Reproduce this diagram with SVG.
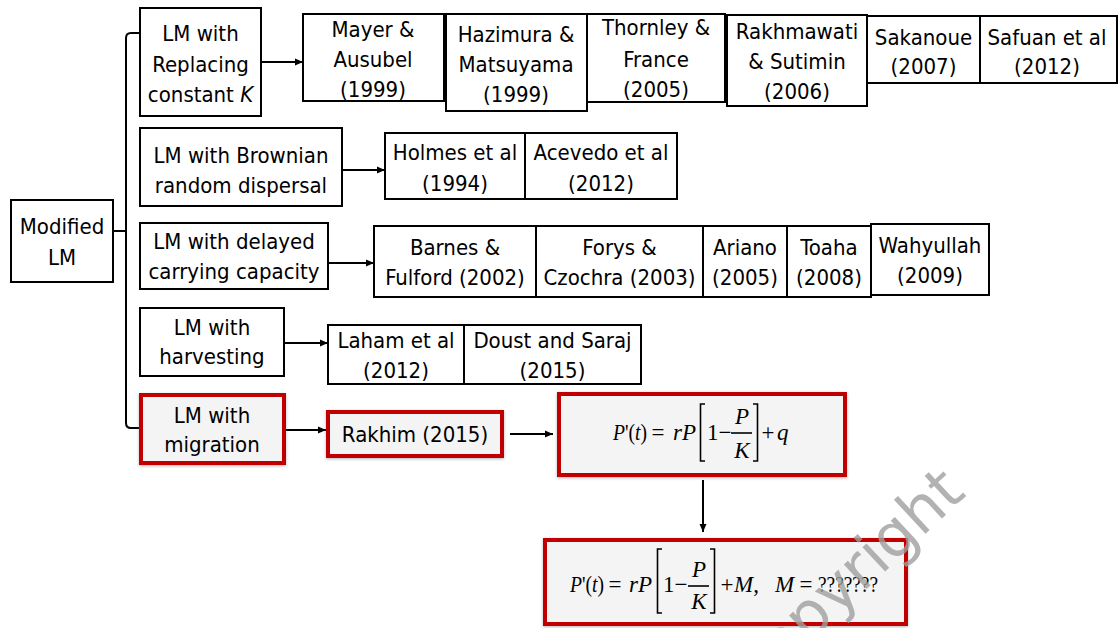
<svg xmlns="http://www.w3.org/2000/svg" width="1118" height="628" viewBox="0 0 1118 628">
<defs>
<style>
.box{fill:#fff;stroke:#000;stroke-width:2}
.red{fill:#f4f4f4;stroke:#c00000;stroke-width:4;filter:url(#sh)}
.t{font-family:"DejaVu Sans Condensed","DejaVu Sans",sans-serif;font-stretch:condensed;font-size:22px;fill:#000;text-anchor:middle}
.eq{font-family:"Liberation Serif","Times New Roman",serif;font-size:23px;fill:#000}
.i{font-style:italic}
.c{fill:none;stroke:#000;stroke-width:2}
.br{fill:none;stroke:#000;stroke-width:1.6}
.wm{font-family:"DejaVu Sans",sans-serif;font-size:61px;fill:#a0a0a0;opacity:0.8}
</style>
<marker id="ah" markerUnits="userSpaceOnUse" markerWidth="9" markerHeight="8" refX="8" refY="4" orient="auto">
<path d="M0,0.5 L8,4 L0,7.5 z" fill="#000"/>
</marker>
<filter id="sh" x="-10%" y="-20%" width="120%" height="140%">
<feDropShadow dx="0" dy="1" stdDeviation="1.6" flood-color="#777" flood-opacity="0.55"/>
</filter>
</defs>
<rect width="1118" height="628" fill="#fff"/>

<g id="connectors">
<path class="c" d="M113,231 H126 M140,33 H131 Q126,33 126,38 V423 Q126,428 131,428 H140"/>
<path class="c" d="M261,62 H303" marker-end="url(#ah)"/>
<path class="c" d="M342,170 H385" marker-end="url(#ah)"/>
<path class="c" d="M328,263 H374" marker-end="url(#ah)"/>
<path class="c" d="M284,343 H328" marker-end="url(#ah)"/>
<path class="c" d="M286,430 H326" marker-end="url(#ah)"/>
<path class="c" d="M510,434 H553" marker-end="url(#ah)"/>
<path class="c" d="M703,480 V532" marker-end="url(#ah)"/>
</g>

<g id="modified-lm"><rect class="box" x="11" y="200" width="102" height="82"/>
<text class="t" x="62" y="234">Modified</text><text class="t" x="62" y="265">LM</text></g>

<g id="lm-replacing"><rect class="box" x="140" y="8" width="121" height="108"/>
<text class="t" x="200.5" y="41">LM with</text><text class="t" x="200.5" y="72">Replacing</text><text class="t" x="200.5" y="102">constant <tspan font-style="italic">K</tspan></text></g>

<g id="mayer"><rect class="box" x="303" y="14" width="141" height="87"/>
<text class="t" x="373" y="37">Mayer &amp;</text><text class="t" x="373" y="67">Ausubel</text><text class="t" x="373" y="97">(1999)</text></g>
<g id="hazimura"><rect class="box" x="446" y="14" width="141" height="97"/>
<text class="t" x="516" y="42">Hazimura &amp;</text><text class="t" x="516" y="72">Matsuyama</text><text class="t" x="516" y="102">(1999)</text></g>
<g id="thornley"><rect class="box" x="587" y="14" width="138" height="88"/>
<text class="t" x="656" y="35">Thornley &amp;</text><text class="t" x="656" y="67">France</text><text class="t" x="656" y="97">(2005)</text></g>
<g id="rakhmawati"><rect class="box" x="727" y="15" width="140" height="91"/>
<text class="t" x="797" y="39">Rakhmawati</text><text class="t" x="797" y="69">&amp; Sutimin</text><text class="t" x="797" y="99">(2006)</text></g>
<g id="sakanoue"><rect class="box" x="867" y="16" width="113" height="67"/>
<text class="t" x="923.5" y="45">Sakanoue</text><text class="t" x="923.5" y="74">(2007)</text></g>
<g id="safuan"><rect class="box" x="980" y="16" width="137" height="67"/>
<text class="t" x="1047" y="45">Safuan et al</text><text class="t" x="1047" y="74">(2012)</text></g>

<g id="lm-brownian"><rect class="box" x="140" y="128" width="202" height="78"/>
<text class="t" x="241" y="163">LM with Brownian</text><text class="t" x="241" y="193">random dispersal</text></g>
<g id="holmes"><rect class="box" x="385" y="133" width="140" height="66"/>
<text class="t" x="455" y="160">Holmes et al</text><text class="t" x="455" y="191">(1994)</text></g>
<g id="acevedo"><rect class="box" x="525" y="133" width="152" height="66"/>
<text class="t" x="601" y="160">Acevedo et al</text><text class="t" x="601" y="191">(2012)</text></g>

<g id="lm-delayed"><rect class="box" x="140" y="223" width="188" height="66"/>
<text class="t" x="234" y="249">LM with delayed</text><text class="t" x="234" y="279">carrying capacity</text></g>
<g id="barnes"><rect class="box" x="374" y="226" width="162" height="71"/>
<text class="t" x="455" y="255">Barnes &amp;</text><text class="t" x="455" y="285">Fulford (2002)</text></g>
<g id="forys"><rect class="box" x="536" y="226" width="167" height="71"/>
<text class="t" x="619.5" y="255">Forys &amp;</text><text class="t" x="619.5" y="285">Czochra (2003)</text></g>
<g id="ariano"><rect class="box" x="703" y="226" width="84" height="71"/>
<text class="t" x="745" y="255">Ariano</text><text class="t" x="745" y="285">(2005)</text></g>
<g id="toaha"><rect class="box" x="787" y="226" width="84" height="71"/>
<text class="t" x="829" y="255">Toaha</text><text class="t" x="829" y="285">(2008)</text></g>
<g id="wahyullah"><rect class="box" x="871" y="224" width="118" height="71"/>
<text class="t" x="930" y="253">Wahyullah</text><text class="t" x="930" y="283">(2009)</text></g>

<g id="lm-harvesting"><rect class="box" x="140" y="308" width="144" height="68"/>
<text class="t" x="212" y="335">LM with</text><text class="t" x="212" y="364">harvesting</text></g>
<g id="laham"><rect class="box" x="328" y="325" width="136" height="59"/>
<text class="t" x="396" y="348">Laham et al</text><text class="t" x="396" y="378">(2012)</text></g>
<g id="doust"><rect class="box" x="464" y="325" width="177" height="59"/>
<text class="t" x="552.5" y="348">Doust and Saraj</text><text class="t" x="552.5" y="378">(2015)</text></g>

<g id="lm-migration"><rect class="red" x="141" y="395" width="143" height="68"/>
<text class="t" x="212" y="423">LM with</text><text class="t" x="212" y="452">migration</text></g>
<g id="rakhim"><rect class="red" x="328" y="412" width="174" height="44"/>
<text class="t" x="415" y="442">Rakhim (2015)</text></g>

<g id="equation-1"><rect class="red" x="559" y="394" width="286" height="81"/>
<text class="eq" x="613" y="440" textLength="34" lengthAdjust="spacingAndGlyphs"><tspan class="i">P</tspan>'(<tspan class="i">t</tspan>)</text>
<text class="eq" x="658" y="440" text-anchor="middle">=</text>
<text class="eq i" x="673" y="440">rP</text>
<path class="br" d="M705,404 H700.5 V461 H705 M753,404 H757.5 V461 H753"/>
<text class="eq" x="707" y="440">1−</text>
<path class="br" d="M731,433 H752"/>
<text class="eq i" x="742" y="424" text-anchor="middle">P</text>
<text class="eq i" x="742" y="458" text-anchor="middle">K</text>
<text class="eq" x="768" y="440" text-anchor="middle">+</text>
<text class="eq i" x="777" y="440">q</text></g>

<g id="equation-2"><rect class="red" x="545" y="540" width="361" height="84"/>
<text class="eq" x="570" y="592" textLength="34" lengthAdjust="spacingAndGlyphs"><tspan class="i">P</tspan>'(<tspan class="i">t</tspan>)</text>
<text class="eq" x="615" y="592" text-anchor="middle">=</text>
<text class="eq i" x="629" y="592">rP</text>
<path class="br" d="M662,549 H657.5 V613 H662 M710,549 H714.5 V613 H710"/>
<text class="eq" x="663" y="592">1−</text>
<path class="br" d="M688,586 H709"/>
<text class="eq i" x="699" y="577" text-anchor="middle">P</text>
<text class="eq i" x="699" y="609" text-anchor="middle">K</text>
<text class="eq" x="727" y="592" text-anchor="middle">+</text>
<text class="eq" x="734" y="592"><tspan class="i">M</tspan>,</text>
<text class="eq i" x="775" y="592">M</text>
<text class="eq" x="806" y="592" text-anchor="middle">=</text>
<text class="eq" x="818" y="592" font-size="18" textLength="60" lengthAdjust="spacingAndGlyphs">???????</text></g>

<text class="wm" transform="translate(756,692) rotate(-43)">copyright</text>
</svg>
